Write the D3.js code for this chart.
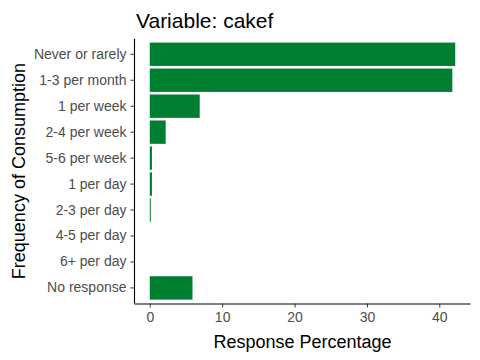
<!DOCTYPE html>
<html><head><meta charset="utf-8">
<script src="https://cdn.jsdelivr.net/npm/d3@7"></script>
<style>body{margin:0;background:#fff}svg{display:block}text{font-family:"Liberation Sans",Arial,sans-serif}</style>
</head><body><svg id="c" width="480" height="360"></svg>
<script>
const categories = ["Never or rarely","1-3 per month","1 per week","2-4 per week","5-6 per week","1 per day","2-3 per day","4-5 per day","6+ per day","No response"];
const values = [42.2, 41.8, 6.9, 2.2, 0.3, 0.3, 0.14, 0, 0, 5.9];
const xTicks = [0, 10, 20, 30, 40];
const title = "Variable: cakef";
const xTitle = "Response Percentage";
const yTitle = "Frequency of Consumption";

(function () {
const svg = d3.select("#c");
const pLeft = 134.5, pRight = 470.5, pTop = 38.7, pBottom = 303.5;
const maxV = d3.max(values);
const pad = maxV * 0.05;
const x = d3.scaleLinear().domain([-pad, maxV + pad]).range([pLeft, pRight]);
const y = d3.scaleBand().domain(categories).range([pTop, pBottom]).paddingInner(0.1).paddingOuter(0.15);

svg.append("g").selectAll("rect").data(values).join("rect")
  .attr("x", x(0)).attr("y", (d, i) => y(categories[i]))
  .attr("width", d => Math.max(0, x(d) - x(0))).attr("height", y.bandwidth())
  .attr("fill", "#007F31");

const xa = svg.append("g").attr("transform", `translate(0,${pBottom})`)
  .call(d3.axisBottom(x).tickValues(xTicks).tickSize(4).tickPadding(4.5).tickSizeOuter(0));
xa.select(".domain").attr("stroke", "#000").attr("stroke-width", 1.1).attr("d", `M${pLeft},0.5H${pRight}`);
xa.selectAll(".tick line").attr("stroke", "#333");
xa.selectAll(".tick text").attr("fill", "#4D4D4D").attr("font-size", 14);

const ya = svg.append("g").attr("transform", `translate(${pLeft},0)`)
  .call(d3.axisLeft(y).tickSize(4).tickPadding(4).tickSizeOuter(0));
ya.select(".domain").attr("stroke", "#000").attr("stroke-width", 1.1).attr("d", `M0,${pTop}V${pBottom}`);
ya.selectAll(".tick line").attr("stroke", "#333");
ya.selectAll(".tick text").attr("fill", "#4D4D4D").attr("font-size", 14);

svg.append("text").attr("x", 136).attr("y", 28).attr("font-size", 21).attr("fill", "#000").text(title);
svg.append("text").attr("x", (pLeft + pRight) / 2).attr("y", 348).attr("text-anchor", "middle").attr("font-size", 18).attr("fill", "#000").text(xTitle);
svg.append("text").attr("transform", `translate(25,${(pTop + pBottom) / 2}) rotate(-90)`).attr("text-anchor", "middle").attr("font-size", 18).attr("fill", "#000").text(yTitle);
})();
</script></body></html>
